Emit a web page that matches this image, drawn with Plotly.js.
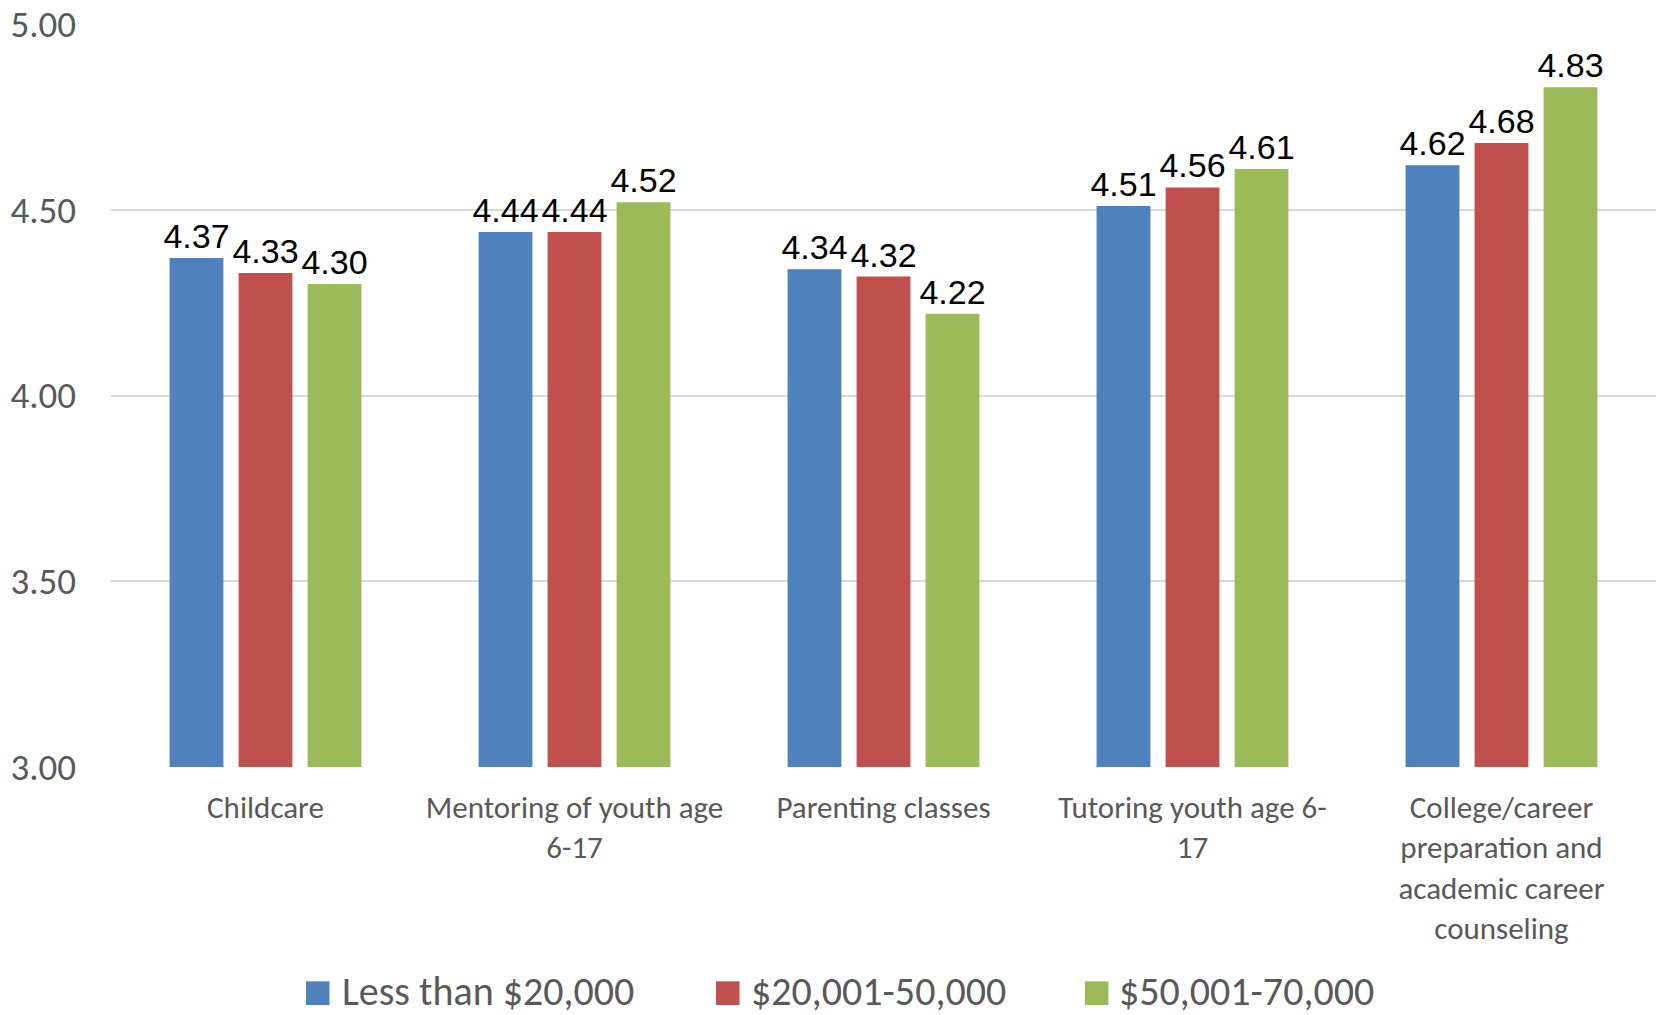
<!DOCTYPE html>
<html>
<head>
<meta charset="utf-8">
<script src="https://cdn.plot.ly/plotly-3.0.1.min.js"></script>
<style>
html,body{margin:0;padding:0;background:#fff;}
#chart{width:1656px;height:1015px;}
</style>
</head>
<body>
<div id="chart"></div>
<script>
const categories = [
  "Childcare",
  "Mentoring of youth age<br>6-17",
  "Parenting classes",
  "Tutoring youth age 6-<br>17",
  "College/career<br>preparation and<br>academic career<br>counseling"
];
const seriesNames = ["Less than $20,000", "$20,001-50,000", "$50,001-70,000"];
const lessThan20k = [4.37, 4.44, 4.34, 4.51, 4.62];
const from20kTo50k = [4.33, 4.44, 4.32, 4.56, 4.68];
const from50kTo70k = [4.30, 4.52, 4.22, 4.61, 4.83];
const yTickValues = [3.0, 3.5, 4.0, 4.5, 5.0];
const yTickLabels = ["3.00", "3.50", "4.00", "4.50", "5.00"];

const colors = ["#4F81BD", "#C0504D", "#9BBB59"];
const seriesValues = [lessThan20k, from20kTo50k, from50kTo70k];
const calibri = "Carlito, Calibri, Lato, sans-serif";

const traces = seriesValues.map((vals, i) => ({
  type: "bar",
  name: seriesNames[i],
  x: categories,
  y: vals,
  base: 0,
  marker: {color: colors[i], line: {width: 0}},
  text: vals.map(v => v.toFixed(2)),
  textposition: "outside",
  constraintext: "none",
  textfont: {family: "Liberation Sans, Arial, sans-serif", size: 34, color: "#000000"},
  cliponaxis: false,
  showlegend: false,
  hoverinfo: "skip"
}));

// Legend drawn as swatches + labels below the plot (paper coordinates)
const legendSwatchX = [0.1262, 0.3916, 0.6304];
const legendTextX = [0.1489, 0.4136, 0.6520];
const legendShapes = seriesNames.map((n, i) => ({
  type: "rect", xref: "paper", yref: "paper",
  x0: legendSwatchX[i], x1: legendSwatchX[i] + 0.0152,
  y0: -0.3203, y1: -0.2885,
  fillcolor: colors[i], line: {width: 0}
}));
const legendAnnotations = seriesNames.map((n, i) => ({
  text: n, xref: "paper", yref: "paper",
  x: legendTextX[i], y: -0.3020,
  xanchor: "left", yanchor: "middle",
  showarrow: false,
  borderpad: 0,
  font: {family: calibri, size: 40, color: "#595959"}
}));

const layout = {
  width: 1656,
  height: 1015,
  margin: {l: 111, r: 0, t: 24, b: 248, pad: 0},
  paper_bgcolor: "#ffffff",
  plot_bgcolor: "#ffffff",
  barmode: "group",
  bargap: 0.33,
  bargroupgap: 0.22,
  showlegend: false,
  shapes: legendShapes,
  annotations: legendAnnotations,
  xaxis: {
    type: "category",
    showgrid: false,
    showline: false,
    zeroline: false,
    ticks: "",
    tickfont: {family: calibri, size: 31, color: "#595959"},
    ticklabelstandoff: 19,
    fixedrange: true
  },
  yaxis: {
    range: [3, 5],
    tickvals: yTickValues,
    ticktext: yTickLabels,
    showgrid: true,
    gridcolor: "#D9D9D9",
    gridwidth: 2,
    zeroline: false,
    showline: false,
    ticks: "",
    tickfont: {family: calibri, size: 37, color: "#595959"},
    ticklabelstandoff: 34,
    fixedrange: true
  }
};

Plotly.newPlot("chart", traces, layout, {staticPlot: true, displayModeBar: false});
</script>
</body>
</html>
